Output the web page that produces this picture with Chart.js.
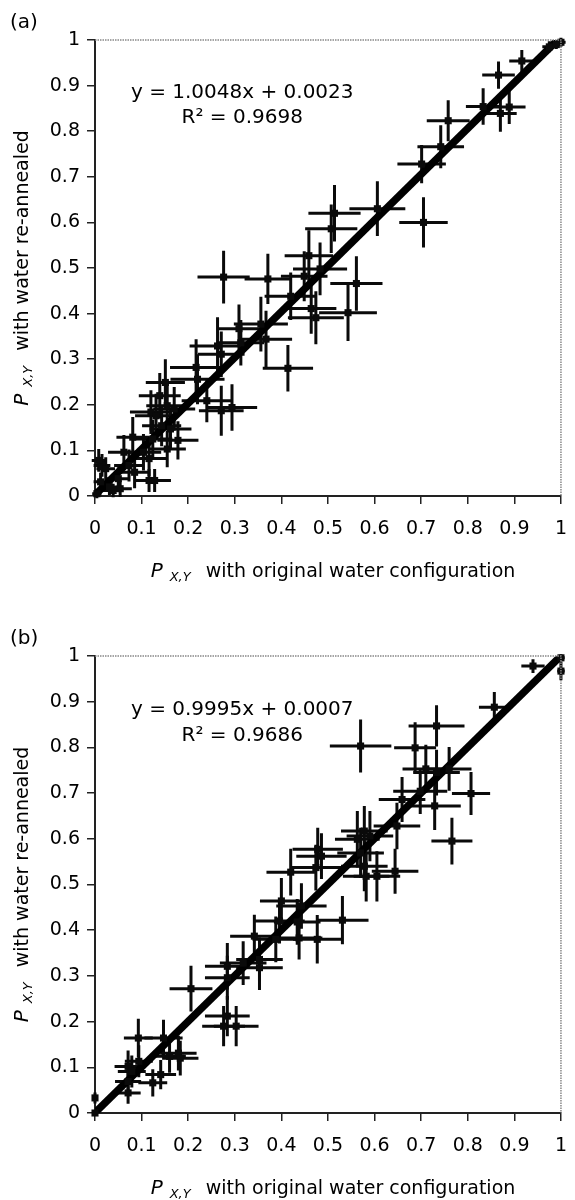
<!DOCTYPE html>
<html>
<head>
<meta charset="utf-8">
<script src="https://cdn.jsdelivr.net/npm/chart.js@4.4.1/dist/chart.umd.min.js"></script>
<style>
  html, body { margin: 0; padding: 0; background: #fff; }
  #wrap { position: relative; width: 575px; height: 1200px; }
  .panel { position: absolute; left: 0; width: 575px; height: 600px; }
</style>
</head>
<body>
<div id="wrap">
  <div class="panel" style="top:0"><canvas id="chartA" width="575" height="600"></canvas></div>
  <div class="panel" style="top:600px"><canvas id="chartB" width="575" height="600"></canvas></div>
</div>
<script>
// tick labels, same on both axes of both panels
const tickLabels = ['0', '0.1', '0.2', '0.3', '0.4', '0.5', '0.6', '0.7', '0.8', '0.9', '1'];

// panel (a): P(X,Y) original vs re-annealed, with error bars
const aX = [1.00, 0.99, 0.975, 0.916, 0.866, 0.833, 0.870, 0.889, 0.758, 0.742, 0.701, 0.705, 0.606, 0.514, 0.507, 0.459,
  0.483, 0.449, 0.561, 0.276, 0.371, 0.420, 0.464, 0.474, 0.543, 0.414, 0.367, 0.356, 0.309, 0.313, 0.263, 0.271,
  0.217, 0.220, 0.240, 0.271, 0.294, 0.151, 0.139, 0.120, 0.131, 0.155, 0.170, 0.162, 0.178, 0.155, 0.124, 0.116,
  0.116, 0.128, 0.081, 0.062, 0.085, 0.073, 0.054, 0.039, 0.015, 0.008, 0.023, 0.004, 0.012, 0.031, 0.050, 0.104, 0.143];
const aY = [0.995, 0.99, 0.985, 0.954, 0.923, 0.854, 0.839, 0.853, 0.823, 0.766, 0.728, 0.600, 0.630, 0.620, 0.586, 0.527,
  0.498, 0.482, 0.466, 0.480, 0.476, 0.438, 0.411, 0.391, 0.402, 0.280, 0.344, 0.377, 0.367, 0.336, 0.329, 0.311,
  0.282, 0.256, 0.209, 0.187, 0.194, 0.249, 0.220, 0.184, 0.176, 0.198, 0.191, 0.147, 0.122, 0.103, 0.125, 0.082,
  0.034, 0.034, 0.129, 0.096, 0.052, 0.067, 0.016, 0.012, 0.067, 0.078, 0.060, 0.005, 0.031, 0.020, 0.038, 0.096, 0.154];
const aXErr = [0.01, 0.01, 0.015, 0.027, 0.035, 0.037, 0.035, 0.035, 0.046, 0.050, 0.052, 0.052, 0.060, 0.056, 0.056, 0.052,
  0.058, 0.050, 0.056, 0.056, 0.050, 0.056, 0.054, 0.060, 0.062, 0.054, 0.056, 0.058, 0.047, 0.050, 0.060, 0.050,
  0.056, 0.058, 0.054, 0.048, 0.054, 0.042, 0.045, 0.045, 0.045, 0.045, 0.045, 0.045, 0.044, 0.040, 0.042, 0.038,
  0.030, 0.035, 0.035, 0.034, 0.032, 0.032, 0.025, 0.022, 0.018, 0.015, 0.020, 0.010, 0.015, 0.020, 0.025, 0.038, 0.042];
const aYErr = [0.01, 0.01, 0.012, 0.024, 0.030, 0.040, 0.040, 0.037, 0.045, 0.047, 0.042, 0.055, 0.060, 0.062, 0.053, 0.056,
  0.058, 0.055, 0.060, 0.058, 0.055, 0.052, 0.055, 0.058, 0.062, 0.051, 0.062, 0.060, 0.053, 0.050, 0.063, 0.050,
  0.062, 0.055, 0.047, 0.055, 0.051, 0.051, 0.050, 0.048, 0.048, 0.050, 0.048, 0.045, 0.042, 0.040, 0.042, 0.038,
  0.025, 0.025, 0.044, 0.038, 0.035, 0.035, 0.018, 0.015, 0.025, 0.025, 0.025, 0.010, 0.020, 0.018, 0.025, 0.040, 0.045];
const aFit = { slope: 1.0048, intercept: 0.0023 };

// panel (b)
const bX = [1.000, 1.000, 0.940, 0.857, 0.733, 0.570, 0.687, 0.710, 0.760, 0.733, 0.807, 0.698, 0.729, 0.659, 0.648, 0.766,
  0.563, 0.578, 0.590, 0.570, 0.578, 0.605, 0.644, 0.582, 0.478, 0.486, 0.474, 0.420, 0.400, 0.443, 0.396, 0.434,
  0.531, 0.342, 0.388, 0.438, 0.477, 0.353, 0.318, 0.353, 0.284, 0.284, 0.206, 0.284, 0.276, 0.303, 0.093, 0.147,
  0.179, 0.183, 0.071, 0.079, 0.094, 0.071, 0.071, 0.124, 0.141, 0.160, 0.000, 0.000];
const bY = [0.996, 0.967, 0.978, 0.888, 0.847, 0.803, 0.799, 0.753, 0.753, 0.745, 0.699, 0.704, 0.672, 0.686, 0.628, 0.595,
  0.599, 0.617, 0.606, 0.569, 0.540, 0.518, 0.529, 0.518, 0.577, 0.562, 0.537, 0.527, 0.464, 0.453, 0.420, 0.418,
  0.422, 0.387, 0.380, 0.383, 0.380, 0.336, 0.328, 0.318, 0.321, 0.296, 0.272, 0.212, 0.190, 0.190, 0.164, 0.164,
  0.131, 0.120, 0.102, 0.091, 0.113, 0.069, 0.044, 0.066, 0.084, 0.124, 0.033, 0.000];
const bXErr = [0.008, 0.008, 0.025, 0.033, 0.060, 0.066, 0.045, 0.050, 0.048, 0.050, 0.041, 0.058, 0.056, 0.050, 0.050, 0.044,
  0.048, 0.050, 0.050, 0.050, 0.050, 0.050, 0.050, 0.050, 0.054, 0.054, 0.054, 0.052, 0.046, 0.054, 0.054, 0.050,
  0.056, 0.052, 0.050, 0.050, 0.052, 0.050, 0.050, 0.050, 0.048, 0.048, 0.046, 0.048, 0.046, 0.048, 0.031, 0.041,
  0.039, 0.039, 0.029, 0.030, 0.030, 0.028, 0.027, 0.031, 0.033, 0.035, 0.004, 0.004];
const bYErr = [0.008, 0.020, 0.015, 0.033, 0.045, 0.058, 0.056, 0.053, 0.048, 0.050, 0.047, 0.050, 0.053, 0.049, 0.051, 0.051,
  0.062, 0.055, 0.055, 0.055, 0.055, 0.055, 0.049, 0.055, 0.047, 0.050, 0.050, 0.051, 0.050, 0.050, 0.049, 0.050,
  0.053, 0.047, 0.050, 0.047, 0.053, 0.048, 0.048, 0.049, 0.051, 0.048, 0.050, 0.044, 0.044, 0.044, 0.042, 0.040,
  0.038, 0.038, 0.035, 0.035, 0.035, 0.030, 0.024, 0.030, 0.032, 0.036, 0.012, 0.004];
const bFit = { slope: 0.9995, intercept: 0.0007 };

const fitRange = [0, 0.995];
const FONT = "'DejaVu Sans', Verdana, sans-serif";

// draws the crossed error bars under each marker
const errorBars = {
  id: 'errorBars',
  beforeDatasetsDraw(chart) {
    const { ctx, scales: { x, y } } = chart;
    const pts = chart.data.datasets[0].data;
    ctx.save();
    ctx.strokeStyle = '#0a0a0a';
    ctx.lineWidth = 3;
    pts.forEach(p => {
      const px = x.getPixelForValue(p.x), py = y.getPixelForValue(p.y);
      ctx.beginPath();
      ctx.moveTo(x.getPixelForValue(p.x - p.xe), py);
      ctx.lineTo(x.getPixelForValue(p.x + p.xe), py);
      ctx.moveTo(px, y.getPixelForValue(p.y - p.ye));
      ctx.lineTo(px, y.getPixelForValue(p.y + p.ye));
      ctx.stroke();
    });
    ctx.restore();
  }
};

// dotted frame on top/right, equation text, panel letter, axis titles with subscript
const notes = {
  id: 'notes',
  afterDraw(chart, args, o) {
    const { ctx, chartArea: a, scales: { x, y } } = chart;
    ctx.save();
    ctx.strokeStyle = '#888';
    ctx.lineWidth = 1.5;
    ctx.setLineDash([1.5, 1]);
    ctx.beginPath();
    ctx.moveTo(a.left, a.top);
    ctx.lineTo(a.right, a.top);
    ctx.lineTo(a.right, a.bottom);
    ctx.stroke();
    ctx.setLineDash([]);

    ctx.fillStyle = '#000';
    ctx.textBaseline = 'middle';
    ctx.textAlign = 'center';
    ctx.font = '20px ' + FONT;
    const ex = x.getPixelForValue(o.eqX);
    ctx.fillText(o.eq, ex, y.getPixelForValue(o.eqY[0]));
    ctx.fillText(o.r2, ex, y.getPixelForValue(o.eqY[1]));

    ctx.textAlign = 'left';
    ctx.font = '20px ' + FONT;
    ctx.fillText(o.label, 10, a.top - 17);

    const drawTitle = (rest) => {
      const pF = 'italic 20px ' + FONT, sF = 'italic 13px ' + FONT, rF = '19px ' + FONT;
      ctx.font = pF; const wP = ctx.measureText('P').width;
      ctx.font = sF; const wS = ctx.measureText('X,Y').width;
      ctx.font = rF; const wR = ctx.measureText(rest).width;
      const gap1 = 7, gap2 = 15;
      const total = wP + gap1 + wS + gap2 + wR;
      let cx = -total / 2;
      ctx.textAlign = 'left';
      ctx.font = pF; ctx.fillText('P', cx, 0); cx += wP + gap1;
      ctx.font = sF; ctx.fillText('X,Y', cx, 6); cx += wS + gap2;
      ctx.font = rF; ctx.fillText(rest, cx, 0);
    };

    ctx.save();
    ctx.translate((a.left + a.right) / 2 + 5, a.bottom + 76);
    drawTitle('with original water configuration');
    ctx.restore();

    ctx.save();
    ctx.translate(23, (a.top + a.bottom) / 2);
    ctx.rotate(-Math.PI / 2);
    drawTitle('with water re-annealed');
    ctx.restore();

    ctx.restore();
  }
};

function makeChart(id, xs, ys, xe, ye, fit, topPad, xAxisH, note) {
  const pts = xs.map((v, i) => ({ x: v, y: ys[i], xe: xe[i], ye: ye[i] }));
  const line = fitRange.map(v => ({ x: v, y: fit.slope * v + fit.intercept }));
  const axis = (isX) => ({
    type: 'linear',
    min: 0,
    max: 1,
    ticks: {
      stepSize: 0.1,
      autoSkip: false,
      maxRotation: 0,
      color: '#000',
      padding: isX ? 8 : 7,
      font: { family: FONT, size: 19, lineHeight: isX ? 1.8 : 1.2 },
      callback: (v, i) => tickLabels[i]
    },
    grid: { display: true, drawOnChartArea: false, drawTicks: true, tickLength: 8, color: '#222', lineWidth: 1.5 },
    border: { display: true, color: '#222', width: 2, dash: [2, 1] },
    afterFit: s => { if (isX) s.height = xAxisH; else s.width = 95; }
  });
  return new Chart(document.getElementById(id), {
    type: 'scatter',
    data: {
      datasets: [
        {
          data: pts,
          pointStyle: 'rect',
          pointRadius: 5,
          backgroundColor: '#0a0a0a',
          borderColor: '#0a0a0a',
          borderWidth: 0,
          clip: false
        },
        {
          data: line,
          showLine: true,
          pointRadius: 0,
          borderColor: '#000',
          borderWidth: 7.5
        }
      ]
    },
    options: {
      responsive: false,
      animation: false,
      layout: { padding: { top: topPad, right: 6, left: 0, bottom: 0 } },
      scales: { x: axis(true), y: axis(false) },
      plugins: { legend: { display: false }, tooltip: { enabled: false }, notes: note }
    },
    plugins: [errorBars, notes]
  });
}

makeChart('chartA', aX, aY, aXErr, aYErr, aFit, 40, 104,
  { label: '(a)', eq: 'y = 1.0048x + 0.0023', r2: 'R² = 0.9698', eqX: 0.316, eqY: [0.884, 0.829] });
makeChart('chartB', bX, bY, bXErr, bYErr, bFit, 56, 87,
  { label: '(b)', eq: 'y = 0.9995x + 0.0007', r2: 'R² = 0.9686', eqX: 0.316, eqY: [0.882, 0.825] });
</script>
</body>
</html>
